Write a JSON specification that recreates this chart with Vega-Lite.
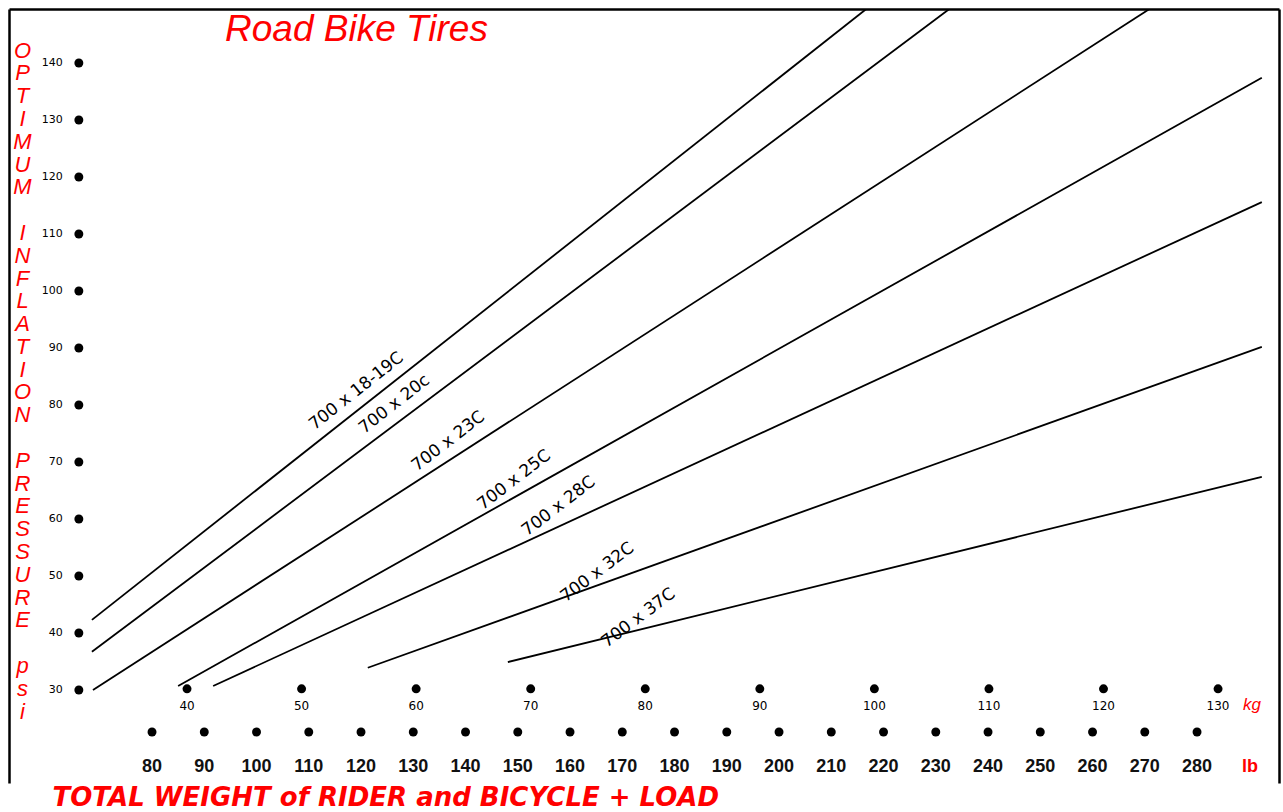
{
  "$schema": "https://vega.github.io/schema/vega-lite/v6.json",
  "width": 1270,
  "height": 774,
  "autosize": {"type": "none"},
  "padding": {"left": 9, "top": 9, "right": 4, "bottom": 29},
  "background": "white",
  "title": {
    "text": "Road Bike Tires",
    "anchor": "start",
    "frame": "group",
    "offset": 0,
    "dx": 216,
    "dy": 69,
    "baseline": "alphabetic",
    "font": "Liberation Sans",
    "fontSize": 37,
    "fontStyle": "italic",
    "fontWeight": "normal",
    "color": "#ff0000"
  },
  "config": {"view": {"stroke": null}, "font": "Liberation Sans"},
  "datasets": {
    "lines": [
      {"tire": "700 x 18-19C", "lb": 68.5, "psi": 42.3},
      {"tire": "700 x 18-19C", "lb": 216.7, "psi": 149.47},
      {"tire": "700 x 20c", "lb": 68.5, "psi": 36.7},
      {"tire": "700 x 20c", "lb": 232.6, "psi": 149.47},
      {"tire": "700 x 23C", "lb": 68.7, "psi": 30.0},
      {"tire": "700 x 23C", "lb": 270.9, "psi": 149.47},
      {"tire": "700 x 25C", "lb": 85.0, "psi": 30.7},
      {"tire": "700 x 25C", "lb": 292.4, "psi": 137.4},
      {"tire": "700 x 28C", "lb": 91.7, "psi": 30.7},
      {"tire": "700 x 28C", "lb": 292.4, "psi": 115.6},
      {"tire": "700 x 32C", "lb": 121.3, "psi": 33.9},
      {"tire": "700 x 32C", "lb": 292.4, "psi": 90.2},
      {"tire": "700 x 37C", "lb": 148.1, "psi": 34.9},
      {"tire": "700 x 37C", "lb": 292.4, "psi": 67.4}
    ],
    "labels": [
      {"tire": "700 x 18-19C", "lb": 119.8, "psi": 81.6},
      {"tire": "700 x 20c", "lb": 127.1, "psi": 79.3},
      {"tire": "700 x 23C", "lb": 137.4, "psi": 72.8},
      {"tire": "700 x 25C", "lb": 150.0, "psi": 66.0},
      {"tire": "700 x 28C", "lb": 158.5, "psi": 61.4},
      {"tire": "700 x 32C", "lb": 165.9, "psi": 49.8},
      {"tire": "700 x 37C", "lb": 173.8, "psi": 41.8}
    ],
    "psi": [
      {"psi": 30}, {"psi": 40}, {"psi": 50}, {"psi": 60}, {"psi": 70}, {"psi": 80},
      {"psi": 90}, {"psi": 100}, {"psi": 110}, {"psi": 120}, {"psi": 130}, {"psi": 140}
    ],
    "lb": [
      {"lb": 80}, {"lb": 90}, {"lb": 100}, {"lb": 110}, {"lb": 120}, {"lb": 130}, {"lb": 140},
      {"lb": 150}, {"lb": 160}, {"lb": 170}, {"lb": 180}, {"lb": 190}, {"lb": 200}, {"lb": 210},
      {"lb": 220}, {"lb": 230}, {"lb": 240}, {"lb": 250}, {"lb": 260}, {"lb": 270}, {"lb": 280}
    ],
    "kg": [
      {"kg": 40}, {"kg": 50}, {"kg": 60}, {"kg": 70}, {"kg": 80},
      {"kg": 90}, {"kg": 100}, {"kg": 110}, {"kg": 120}, {"kg": 130}
    ]
  },
  "resolve": {"scale": {"x": "independent", "y": "independent"}, "axis": {"x": "independent", "y": "independent"}},
  "layer": [
    {
      "layer": [
        {
          "data": {"name": "lines"},
          "mark": {"type": "line", "color": "black", "strokeWidth": 1.8, "clip": true},
          "encoding": {
            "x": {
              "field": "lb", "type": "quantitative",
              "scale": {"domain": [52.63, 295.69], "nice": false, "zero": false},
              "axis": {
                "orient": "bottom", "domain": false, "ticks": false, "labels": false, "grid": false,
                "title": "TOTAL WEIGHT of RIDER and BICYCLE + LOAD",
                "titleX": 43, "titleY": 27, "titleAlign": "left", "titleBaseline": "bottom",
                "titleColor": "#ff0000", "titleFont": "DejaVu Sans", "titleFontSize": 26,
                "titleFontStyle": "italic", "titleFontWeight": "bold"
              }
            },
            "y": {
              "field": "psi", "type": "quantitative",
              "scale": {"domain": [13.68, 149.47], "nice": false, "zero": false},
              "axis": {
                "orient": "left", "domain": true, "domainColor": "black", "domainWidth": 2.5,
                "ticks": false, "labels": false, "grid": false,
                "title": ["O","P","T","I","M","U","M","\u200b","I","N","F","L","A","T","I","O","N","\u200b","P","R","E","S","S","U","R","E","\u200b","p","s","i"],
                "titleAngle": 0, "titleX": 13, "titleY": 31, "titleAlign": "center", "titleBaseline": "top",
                "titleColor": "#ff0000", "titleFont": "Liberation Sans", "titleFontSize": 22,
                "titleFontStyle": "italic", "titleFontWeight": "normal", "titleLineHeight": 22.8
              }
            },
            "detail": {"field": "tire"}
          }
        },
        {
          "data": {"name": "labels"},
          "mark": {"type": "text", "font": "DejaVu Sans", "fontSize": 17, "align": "center", "baseline": "middle", "dy": -6, "color": "black"},
          "encoding": {
            "x": {"field": "lb", "type": "quantitative", "scale": {"domain": [52.63, 295.69], "nice": false, "zero": false}},
            "y": {"field": "psi", "type": "quantitative", "scale": {"domain": [13.68, 149.47], "nice": false, "zero": false}},
            "text": {"field": "tire"},
            "angle": {
              "field": "tire", "type": "nominal", "legend": null,
              "scale": {
                "domain": ["700 x 18-19C", "700 x 20c", "700 x 23C", "700 x 25C", "700 x 28C", "700 x 32C", "700 x 37C"],
                "range": [321.7, 323.1, 327.2, 330.7, 335.2, 340.3, 346.2]
              }
            }
          }
        },
        {
          "data": {"name": "psi"},
          "mark": {"type": "point", "filled": true, "color": "black", "opacity": 1, "size": 80},
          "encoding": {
            "x": {"datum": 66, "type": "quantitative", "scale": {"domain": [52.63, 295.69], "nice": false, "zero": false}},
            "y": {"field": "psi", "type": "quantitative", "scale": {"domain": [13.68, 149.47], "nice": false, "zero": false}}
          }
        },
        {
          "data": {"name": "psi"},
          "mark": {"type": "text", "font": "DejaVu Sans", "fontSize": 11, "align": "right", "baseline": "middle", "dx": -16, "color": "black"},
          "encoding": {
            "x": {"datum": 66, "type": "quantitative", "scale": {"domain": [52.63, 295.69], "nice": false, "zero": false}},
            "y": {"field": "psi", "type": "quantitative", "scale": {"domain": [13.68, 149.47], "nice": false, "zero": false}},
            "text": {"field": "psi"}
          }
        },
        {
          "data": {"name": "lb"},
          "mark": {"type": "point", "filled": true, "color": "black", "opacity": 1, "size": 80},
          "encoding": {
            "x": {"field": "lb", "type": "quantitative", "scale": {"domain": [52.63, 295.69], "nice": false, "zero": false}},
            "y": {"datum": 22.63, "type": "quantitative", "scale": {"domain": [13.68, 149.47], "nice": false, "zero": false}}
          }
        },
        {
          "data": {"name": "lb"},
          "mark": {"type": "text", "font": "Liberation Sans", "fontSize": 18, "fontWeight": "bold", "align": "center", "baseline": "middle", "dy": 35, "color": "#111111"},
          "encoding": {
            "x": {"field": "lb", "type": "quantitative", "scale": {"domain": [52.63, 295.69], "nice": false, "zero": false}},
            "y": {"datum": 22.63, "type": "quantitative", "scale": {"domain": [13.68, 149.47], "nice": false, "zero": false}},
            "text": {"field": "lb"}
          }
        },
        {
          "data": {"values": [{"unit": "lb"}]},
          "mark": {"type": "text", "font": "Liberation Sans", "fontSize": 18, "fontWeight": "bold", "align": "center", "baseline": "middle", "dx": 53, "dy": 35, "color": "#ff0000"},
          "encoding": {
            "x": {"datum": 280, "type": "quantitative", "scale": {"domain": [52.63, 295.69], "nice": false, "zero": false}},
            "y": {"datum": 22.63, "type": "quantitative", "scale": {"domain": [13.68, 149.47], "nice": false, "zero": false}},
            "text": {"field": "unit"}
          }
        }
      ]
    },
    {
      "layer": [
        {
          "data": {"name": "kg"},
          "mark": {"type": "point", "filled": true, "color": "black", "opacity": 1, "size": 80},
          "encoding": {
            "x": {
              "field": "kg", "type": "quantitative",
              "scale": {"domain": [24.46, 135.32], "nice": false, "zero": false},
              "axis": {"orient": "top", "domain": true, "domainColor": "black", "domainWidth": 2.5, "ticks": false, "labels": false, "grid": false, "title": null}
            },
            "y": {
              "datum": 30.2, "type": "quantitative",
              "scale": {"domain": [13.68, 149.47], "nice": false, "zero": false},
              "axis": {"orient": "right", "domain": true, "domainColor": "black", "domainWidth": 2.5, "ticks": false, "labels": false, "grid": false, "title": null}
            }
          }
        },
        {
          "data": {"name": "kg"},
          "mark": {"type": "text", "font": "DejaVu Sans", "fontSize": 12, "align": "center", "baseline": "middle", "dy": 17, "color": "black"},
          "encoding": {
            "x": {"field": "kg", "type": "quantitative", "scale": {"domain": [24.46, 135.32], "nice": false, "zero": false}},
            "y": {"datum": 30.2, "type": "quantitative", "scale": {"domain": [13.68, 149.47], "nice": false, "zero": false}},
            "text": {"field": "kg"}
          }
        },
        {
          "data": {"values": [{"unit": "kg"}]},
          "mark": {"type": "text", "font": "Liberation Sans", "fontSize": 17, "fontStyle": "italic", "align": "center", "baseline": "middle", "dx": 34, "dy": 16, "color": "#ff0000"},
          "encoding": {
            "x": {"datum": 130, "type": "quantitative", "scale": {"domain": [24.46, 135.32], "nice": false, "zero": false}},
            "y": {"datum": 30.2, "type": "quantitative", "scale": {"domain": [13.68, 149.47], "nice": false, "zero": false}},
            "text": {"field": "unit"}
          }
        }
      ]
    }
  ]
}
